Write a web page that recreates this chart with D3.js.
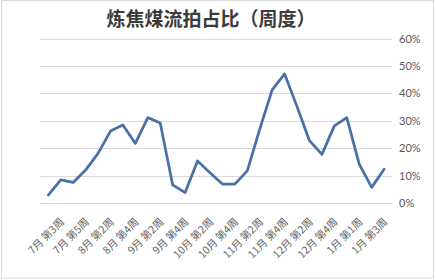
<!DOCTYPE html>
<html>
<head>
<meta charset="utf-8">
<script src="https://cdn.jsdelivr.net/npm/d3@7"></script>
<style>
  html, body { margin: 0; padding: 0; background: #fff; }
  svg { display: block; }
</style>
</head>
<body>
<svg id="chart" width="436" height="280"></svg>
<script>
const title = "炼焦煤流拍占比（周度）";
const categories = [
  "7月 第2周", "7月 第3周", "7月 第4周", "7月 第5周",
  "8月 第1周", "8月 第2周", "8月 第3周", "8月 第4周",
  "9月 第1周", "9月 第2周", "9月 第3周", "9月 第4周",
  "10月 第1周", "10月 第2周", "10月 第3周", "10月 第4周",
  "11月 第1周", "11月 第2周", "11月 第3周", "11月 第4周",
  "12月 第1周", "12月 第2周", "12月 第3周", "12月 第4周", "12月 第5周",
  "1月 第1周", "1月 第2周", "1月 第3周"
];
const values = [
  0.030, 0.085, 0.076, 0.121,
  0.182, 0.263, 0.285, 0.218,
  0.312, 0.292, 0.067, 0.039,
  0.154, 0.111, 0.070, 0.070,
  0.118, 0.270, 0.413, 0.471,
  0.352, 0.228, 0.178, 0.282, 0.312,
  0.143, 0.058, 0.124
];
const yTicks = [0, 0.1, 0.2, 0.3, 0.4, 0.5, 0.6];
// labels shown on every second category
const labelledCategories = categories.filter((d, i) => i % 2 === 1);

const svg = d3.select("#chart");

// chart border
svg.append("rect")
  .attr("x", 1.5).attr("y", 0.5)
  .attr("width", 432).attr("height", 277.5)
  .attr("fill", "#fff")
  .attr("stroke", "#d9d9d9")
  .attr("stroke-width", 1);

const x = d3.scalePoint().domain(categories).range([48.3, 384.1]);
const y = d3.scaleLinear().domain([0, 0.6]).range([203.3, 38.5]);

// gridlines
svg.append("g")
  .selectAll("line")
  .data(yTicks)
  .join("line")
  .attr("x1", 40).attr("x2", 392)
  .attr("y1", d => Math.round(y(d)) + 0.5)
  .attr("y2", d => Math.round(y(d)) + 0.5)
  .attr("stroke", "#d9d9d9")
  .attr("stroke-width", 1);

// right axis labels
const yAxis = d3.axisRight(y)
  .tickValues(yTicks)
  .tickFormat(d3.format(".0%"))
  .tickSize(0)
  .tickPadding(0);
const gy = svg.append("g")
  .attr("transform", "translate(399,0)")
  .call(yAxis);
gy.select(".domain").remove();
gy.selectAll("text")
  .attr("fill", "#595959")
  .style("font-family", "Lato, 'Open Sans', sans-serif")
  .style("font-size", "11px");

// x axis labels (rotated)
const xAxis = d3.axisBottom(x)
  .tickValues(labelledCategories)
  .tickSize(0)
  .tickPadding(0);
const gx = svg.append("g")
  .call(xAxis);
gx.select(".domain").remove();
gx.selectAll(".tick")
  .attr("transform", d => `translate(${x(d) + 1.5},220)`);
gx.selectAll(".tick text")
  .attr("x", 0).attr("y", 0).attr("dy", "0.35em")
  .attr("text-anchor", "end")
  .attr("transform", "rotate(-45)")
  .attr("fill", "#666666")
  .style("font-family", "'Noto Sans CJK SC', sans-serif")
  .style("font-size", "10.5px");

// line
const line = d3.line()
  .x((d, i) => x(categories[i]))
  .y(d => y(d));
svg.append("path")
  .datum(values)
  .attr("d", line)
  .attr("fill", "none")
  .attr("stroke", "#4a70a6")
  .attr("stroke-width", 2.75)
  .attr("stroke-linejoin", "round")
  .attr("stroke-linecap", "round");

// title
svg.append("text")
  .attr("x", 211).attr("y", 26)
  .attr("text-anchor", "middle")
  .attr("fill", "#3b3b3b")
  .style("font-family", "'Noto Sans CJK SC', sans-serif")
  .style("font-weight", "bold")
  .style("font-size", "19px")
  .text(title);
</script>
</body>
</html>
